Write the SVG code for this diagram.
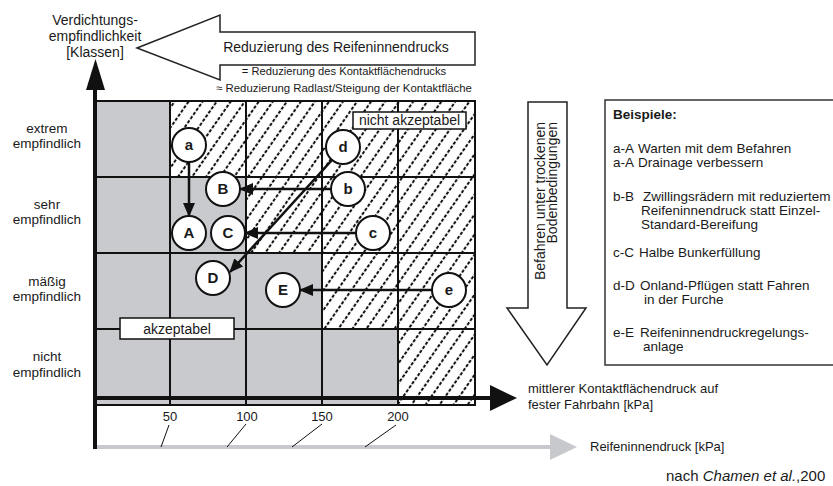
<svg xmlns="http://www.w3.org/2000/svg" width="833" height="486" viewBox="0 0 833 486">
<style>
text{font-family:"Liberation Sans",Arial,sans-serif;fill:#1a1a1a}
.lab{font-size:13.5px;text-anchor:middle}
.ex{font-size:13.5px}
.ax{font-size:13px}
.cl{font-size:15px;font-weight:bold;text-anchor:middle}
.node circle{fill:#fff;stroke:#111;stroke-width:2}
.grid{stroke:#111;stroke-width:2;fill:none}
.gray{fill:#c9cace}
.conn line{stroke:#111;stroke-width:2.5;fill:none}
.tick{stroke:#111;stroke-width:1}
</style>
<defs>
<pattern id="hatch" patternUnits="userSpaceOnUse" width="11.5" height="20" patternTransform="rotate(35)">
<rect width="11.5" height="20" fill="#fff"/>
<line x1="5.75" y1="0" x2="5.75" y2="20" stroke="#111" stroke-width="2" stroke-dasharray="3.2 1.8"/>
</pattern>
<marker id="ah" markerWidth="14" markerHeight="12" refX="13" refY="6" orient="auto" markerUnits="userSpaceOnUse">
<path d="M0,0 L14,6 L0,12 Z" fill="#111"/>
</marker>
</defs>
<rect width="833" height="486" fill="#fff"/>

<g id="y-label">
<text x="95" y="25" text-anchor="middle" font-size="14">Verdichtungs-</text>
<text x="95" y="41" text-anchor="middle" font-size="14">empfindlichkeit</text>
<text x="95" y="57" text-anchor="middle" font-size="14">[Klassen]</text>
</g>

<g id="top-arrow">
<polygon points="137,48 220,15 220,32 475,32 475,65 220,65 220,80" fill="#fff" stroke="#222" stroke-width="1.5"/>
<text x="336" y="52" text-anchor="middle" font-size="14">Reduzierung des Reifeninnendrucks</text>
<text x="344" y="75" text-anchor="middle" font-size="11.2">= Reduzierung des Kontaktflächendrucks</text>
<text x="344" y="92" text-anchor="middle" font-size="11.4">≈ Reduzierung Radlast/Steigung der Kontaktfläche</text>
</g>

<g id="grid">
<rect x="95" y="101" width="380" height="304" class="gray"/>
<rect x="170" y="101" width="305" height="76" fill="url(#hatch)"/>
<rect x="246" y="177" width="229" height="76" fill="url(#hatch)"/>
<rect x="322" y="253" width="153" height="76" fill="url(#hatch)"/>
<rect x="398" y="329" width="77" height="76" fill="url(#hatch)"/>
<path class="grid" d="M170,101V405M246,101V405M322,101V405M398,101V405M95,177H475M95,253H475M95,329H475"/>
<rect class="grid" x="95" y="101" width="380" height="304"/>
</g>

<g id="row-labels">
<text class="lab" x="47" y="133">extrem</text>
<text class="lab" x="47" y="148">empfindlich</text>
<text class="lab" x="47" y="209">sehr</text>
<text class="lab" x="47" y="224">empfindlich</text>
<text class="lab" x="47" y="286">mäßig</text>
<text class="lab" x="47" y="301">empfindlich</text>
<text class="lab" x="47" y="361">nicht</text>
<text class="lab" x="47" y="377">empfindlich</text>
</g>

<g id="axes">
<line x1="95" y1="88" x2="95" y2="449" stroke="#111" stroke-width="4"/>
<polygon points="86,90 95.5,59 105,90" fill="#111"/>
<line x1="95" y1="398" x2="492" y2="398" stroke="#111" stroke-width="4"/>
<polygon points="490,385 517,398 490,411" fill="#111"/>
<line x1="97" y1="447" x2="552" y2="447" stroke="#c8c9cd" stroke-width="4"/>
<polygon points="550,434 577,447 550,460" fill="#c8c9cd"/>
<line class="tick" x1="169" y1="425" x2="161" y2="447"/>
<line class="tick" x1="246" y1="424" x2="227" y2="447"/>
<line class="tick" x1="322" y1="424" x2="292" y2="447"/>
<line class="tick" x1="396" y1="425" x2="365" y2="447"/>
<text class="ax" x="170" y="421" text-anchor="middle">50</text>
<text class="ax" x="247" y="421" text-anchor="middle">100</text>
<text class="ax" x="322" y="421" text-anchor="middle">150</text>
<text class="ax" x="398" y="421" text-anchor="middle">200</text>
<text class="ax" x="528" y="393">mittlerer Kontaktflächendruck auf</text>
<text class="ax" x="528" y="409">fester Fahrbahn [kPa]</text>
<text class="ax" x="590" y="451">Reifeninnendruck [kPa]</text>
<text x="666" y="481" font-size="15">nach <tspan font-style="italic">Chamen et al.</tspan>,200</text>
</g>

<g id="box-nicht-akzeptabel">
<rect x="353" y="112" width="113" height="17" fill="#fff" stroke="#111" stroke-width="1.5"/>
<text x="409.5" y="125" text-anchor="middle" font-size="14">nicht akzeptabel</text>
</g>
<g id="box-akzeptabel">
<rect x="120" y="318" width="114" height="21" fill="#fff" stroke="#111" stroke-width="1.5"/>
<text x="177" y="334" text-anchor="middle" font-size="14">akzeptabel</text>
</g>

<g id="connectors" class="conn">
<line x1="189" y1="162" x2="189" y2="216" marker-end="url(#ah)"/>
<line x1="331" y1="189" x2="240" y2="189" marker-end="url(#ah)"/>
<line x1="356" y1="233" x2="245" y2="233" marker-end="url(#ah)"/>
<line x1="332" y1="160" x2="230" y2="272" marker-end="url(#ah)"/>
<line x1="432" y1="290" x2="300" y2="290" marker-end="url(#ah)"/>
</g>

<g id="node-a" class="node"><circle cx="189" cy="145" r="17"/><text class="cl" x="189" y="150">a</text></g>
<g id="node-b" class="node"><circle cx="348" cy="189" r="17"/><text class="cl" x="348" y="194">b</text></g>
<g id="node-c" class="node"><circle cx="373" cy="233" r="17"/><text class="cl" x="373" y="238">c</text></g>
<g id="node-d" class="node"><circle cx="343" cy="147" r="17"/><text class="cl" x="343" y="152">d</text></g>
<g id="node-e" class="node"><circle cx="449" cy="290" r="17"/><text class="cl" x="449" y="295">e</text></g>
<g id="node-A" class="node"><circle cx="189" cy="233" r="17"/><text class="cl" x="189" y="238">A</text></g>
<g id="node-B" class="node"><circle cx="223" cy="189" r="17"/><text class="cl" x="223" y="194">B</text></g>
<g id="node-C" class="node"><circle cx="228" cy="233" r="17"/><text class="cl" x="228" y="238">C</text></g>
<g id="node-D" class="node"><circle cx="213" cy="278" r="17"/><text class="cl" x="213" y="283">D</text></g>
<g id="node-E" class="node"><circle cx="283" cy="290" r="17"/><text class="cl" x="283" y="295">E</text></g>

<g id="down-arrow">
<polygon points="528,102 567,102 567,308 586,308 547,365 507,308 528,308" fill="#fff" stroke="#222" stroke-width="1.5"/>
<text transform="translate(545,122) rotate(-90)" text-anchor="end" font-size="14">Befahren unter trockenen</text>
<text transform="translate(557,122) rotate(-90)" text-anchor="end" font-size="14">Bodenbedingungen</text>
</g>

<g id="examples">
<rect x="605" y="100" width="240" height="265" fill="#fff" stroke="#333" stroke-width="1.5"/>
<text class="ex" x="613" y="119" font-weight="bold">Beispiele:</text>
<text class="ex" y="153"><tspan x="613">a-A</tspan><tspan x="638">Warten mit dem Befahren</tspan></text>
<text class="ex" y="167"><tspan x="613">a-A</tspan><tspan x="638">Drainage verbessern</tspan></text>
<text class="ex" y="201"><tspan x="613">b-B</tspan><tspan x="643">Zwillingsrädern mit reduziertem</tspan></text>
<text class="ex" x="641" y="215">Reifeninnendruck statt Einzel-</text>
<text class="ex" x="641" y="229">Standard-Bereifung</text>
<text class="ex" y="257"><tspan x="613">c-C</tspan><tspan x="639">Halbe Bunkerfüllung</tspan></text>
<text class="ex" y="290"><tspan x="613">d-D</tspan><tspan x="640">Onland-Pflügen statt Fahren</tspan></text>
<text class="ex" x="644" y="304">in der Furche</text>
<text class="ex" y="337"><tspan x="613">e-E</tspan><tspan x="640">Reifeninnendruckregelungs-</tspan></text>
<text class="ex" x="643" y="351">anlage</text>
</g>
</svg>
